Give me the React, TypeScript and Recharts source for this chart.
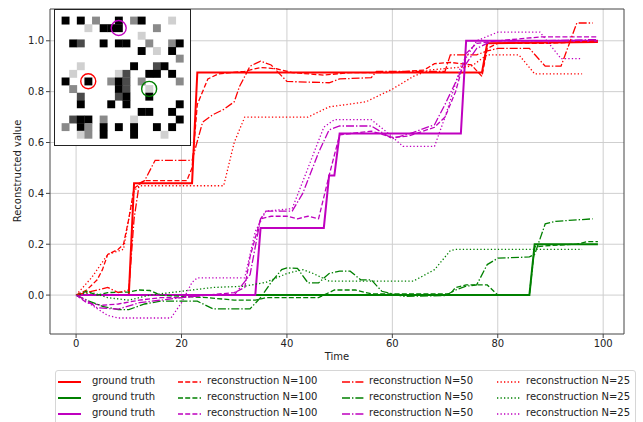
import React from "react";
import { LineChart, Line, XAxis, YAxis, CartesianGrid, ReferenceArea } from "recharts";

type Pt = [number, number];

// axis setup (matplotlib auto limits with 5% margin)
const X_DOMAIN: [number, number] = [-4.95, 103.95];
const Y_DOMAIN: [number, number] = [-0.153, 1.125];
const X_TICKS = [0, 20, 40, 60, 80, 100];
const Y_TICKS = [0, 0.2, 0.4, 0.6, 0.8, 1.0];

// ---- red pixel ----
const RED_GT: Pt[] = [[0, 0], [10, 0], [11, 0.44], [22, 0.44], [23, 0.875], [77, 0.875], [78, 0.99], [99, 0.995]];
const RED_N100: Pt[] = [
  [0, 0], [2, 0.02], [4, 0.06], [5, 0.1], [6, 0.16], [8, 0.18], [9, 0.2], [10, 0.3], [11, 0.42], [13, 0.45],
  [21, 0.45], [22, 0.5], [23, 0.75], [25, 0.85], [27, 0.87], [32, 0.88], [35, 0.895], [38, 0.89], [41, 0.875],
  [47, 0.865], [52, 0.875], [60, 0.875], [66, 0.885], [68, 0.91], [71, 0.915], [75, 0.905], [77, 0.86],
  [78, 0.97], [80, 0.99], [90, 0.99], [99, 1.0],
];
const RED_N50: Pt[] = [
  [0, 0], [2, 0.01], [4, 0.02], [6, 0.03], [8, 0.01], [10, 0.02], [11, 0.3], [12, 0.44], [13, 0.45], [15, 0.53],
  [22, 0.53], [24, 0.68], [26, 0.71], [28, 0.73], [30, 0.76], [31, 0.82], [33, 0.9], [35, 0.92], [37, 0.905],
  [40, 0.84], [48, 0.835], [50, 0.85], [56, 0.855], [57, 0.88], [70, 0.88], [71, 0.945], [76, 0.945],
  [78, 0.96], [80, 0.97], [86, 0.97], [89, 0.9], [92, 0.9], [95, 1.07], [98, 1.07],
];
const RED_N25: Pt[] = [
  [0, 0], [3, 0.07], [6, 0.16], [9, 0.18], [10, 0.3], [11, 0.41], [12, 0.43], [28, 0.43], [30, 0.6], [32, 0.7],
  [44, 0.7], [48, 0.74], [55, 0.76], [60, 0.81], [64, 0.86], [67, 0.885], [75, 0.9], [78, 0.945], [84, 0.945],
  [87, 0.87], [96, 0.87],
];

// ---- green pixel ----
const GREEN_GT: Pt[] = [[0, 0], [86, 0], [87, 0.2], [99, 0.2]];
const GREEN_N100: Pt[] = [
  [0, 0], [2, 0.015], [4, 0.0], [6, 0.01], [10, 0.012], [12, 0.02], [14, 0.018], [16, 0.0], [20, -0.005],
  [25, -0.01], [30, -0.02], [34, -0.02], [36, -0.01], [46, -0.01], [49, 0.02], [53, 0.02], [56, 0.005],
  [71, 0.005], [72, 0.03], [74, 0.04], [78, 0.04], [80, 0.0], [86, 0.0], [87, 0.19], [90, 0.195], [95, 0.2],
  [97, 0.21], [99, 0.21],
];
const GREEN_N50: Pt[] = [
  [0, 0], [2, -0.02], [5, -0.044], [8, -0.057], [10, -0.057], [13, -0.035], [16, -0.024], [23, -0.024],
  [26, -0.054], [33, -0.054], [35, -0.01], [37, 0.05], [39, 0.1], [40, 0.107], [42, 0.105], [44, 0.048],
  [46, 0.048], [48, 0.085], [50, 0.094], [52, 0.094], [54, 0.06], [56, 0.06], [58, 0.015], [62, -0.005],
  [70, -0.002], [72, 0.02], [74, 0.035], [76, 0.04], [78, 0.12], [80, 0.145], [86, 0.15], [87, 0.16],
  [89, 0.28], [91, 0.29], [98, 0.3],
];
const GREEN_N25: Pt[] = [
  [0, 0], [3, 0.01], [6, -0.01], [10, -0.02], [14, 0.0], [18, 0.01], [22, 0.02], [26, 0.03], [32, 0.035],
  [36, 0.05], [40, 0.085], [43, 0.1], [45, 0.085], [48, 0.055], [64, 0.055], [68, 0.1], [71, 0.175],
  [72, 0.18], [96, 0.18],
];

// ---- magenta pixel ----
const MAG_GT: Pt[] = [[0, 0], [34, 0], [35, 0.264], [47, 0.264], [48, 0.47], [49, 0.47], [50, 0.635], [73, 0.635], [74, 1.0], [99, 1.0]];
const MAG_N100: Pt[] = [
  [0, 0], [2, -0.03], [5, -0.04], [8, -0.035], [12, -0.02], [16, -0.01], [20, -0.01], [25, 0.0], [30, 0.01],
  [32, 0.03], [33, 0.15], [35, 0.3], [37, 0.31], [40, 0.31], [42, 0.3], [44, 0.31], [46, 0.3], [48, 0.47],
  [50, 0.63], [56, 0.645], [60, 0.62], [63, 0.625], [68, 0.66], [70, 0.7], [72, 0.8], [74, 0.95], [76, 0.99],
  [80, 1.0], [88, 1.015], [99, 1.015],
];
const MAG_N50: Pt[] = [
  [0, 0], [2, -0.02], [4, -0.05], [8, -0.055], [12, -0.03], [16, -0.02], [20, -0.01], [25, 0.0], [30, 0.0],
  [33, 0.08], [35, 0.3], [36, 0.33], [41, 0.33], [43, 0.4], [46, 0.56], [48, 0.65], [50, 0.665], [56, 0.665],
  [60, 0.615], [64, 0.64], [68, 0.67], [70, 0.75], [73, 0.88], [76, 0.97], [79, 1.0], [88, 1.0], [99, 1.005],
];
const MAG_N25: Pt[] = [
  [0, 0], [3, -0.04], [6, -0.08], [8, -0.09], [18, -0.09], [20, -0.03], [22, 0.05], [23, 0.068], [32, 0.068],
  [34, 0.25], [36, 0.33], [41, 0.34], [44, 0.5], [47, 0.66], [49, 0.69], [56, 0.69], [59, 0.64], [62, 0.585],
  [68, 0.585], [70, 0.7], [73, 0.9], [76, 1.0], [80, 1.034], [88, 1.034], [92, 0.93], [96, 0.93],
];

// inset image (18x18), . white  l light  g grey  d dark  k black
const INSET_ROWS = [
  "..................",
  ".k.k.g..k.gk...l..",
  "....l.kkk....g....",
  "...........l......",
  "..kd..k.kk..g..gk.",
  "...........k.l.k..",
  "................g.",
  "...l......k..dk...",
  "..l.....ld..kk.k..",
  ".k..k..gkd.g....g.",
  "..g.....kd..l.....",
  "...d....dk..k.....",
  "...k...k.k......k.",
  "...........kk..k..",
  "..dkk.g...l.....k.",
  ".g.kg.k.k.k..k.k..",
  "...lg.k...k...l...",
  "..................",
];
const SHADE: Record<string, string> = { ".": "#ffffff", l: "#d0d0d0", g: "#8a8a8a", d: "#4a4a4a", k: "#000000" };
// tracked pixels [col, row, colour]
const TRACKED: [number, number, string][] = [[8, 2, "#bf00bf"], [4, 9, "#ff0000"], [12, 10, "#008000"]];

const RED = "#ff0000";
const GREEN = "#008000";
const MAGENTA = "#bf00bf";
const DASHES = [undefined, "5 2.2", "8 2 1.4 2", "1.3 2.2"];
const LABELS = ["ground truth", "reconstruction N=100", "reconstruction N=50", "reconstruction N=25"];

const SERIES = [
  { color: RED, dash: 0, data: RED_GT },
  { color: GREEN, dash: 0, data: GREEN_GT },
  { color: MAGENTA, dash: 0, data: MAG_GT },
  { color: RED, dash: 1, data: RED_N100 },
  { color: GREEN, dash: 1, data: GREEN_N100 },
  { color: MAGENTA, dash: 1, data: MAG_N100 },
  { color: RED, dash: 2, data: RED_N50 },
  { color: GREEN, dash: 2, data: GREEN_N50 },
  { color: MAGENTA, dash: 2, data: MAG_N50 },
  { color: RED, dash: 3, data: RED_N25 },
  { color: GREEN, dash: 3, data: GREEN_N25 },
  { color: MAGENTA, dash: 3, data: MAG_N25 },
];

const FONT = "'DejaVu Sans', sans-serif";
const TICK = { fill: "#222", fontSize: 10, fontFamily: FONT };

function Inset() {
  const size = 137;
  const cell = size / INSET_ROWS.length;
  return (
    <svg width={size} height={size} style={{ position: "absolute", left: 54, top: 9 }}>
      <rect x={0} y={0} width={size} height={size} fill="#fff" />
      {INSET_ROWS.map((row, r) =>
        row.split("").map((ch, c) =>
          ch === "." ? null : (
            <rect key={r + "-" + c} x={c * cell} y={r * cell} width={cell + 0.3} height={cell + 0.3} fill={SHADE[ch]} />
          )
        )
      )}
      {TRACKED.map(([c, r, col]) => (
        <circle key={col} cx={(c + 0.5) * cell} cy={(r + 0.5) * cell} r={7.5} fill="none" stroke={col} strokeWidth={1.4} />
      ))}
      <rect x={0.5} y={0.5} width={size - 1} height={size - 1} fill="none" stroke="#222" strokeWidth={1} />
    </svg>
  );
}

function LegendBox() {
  const colX = [57, 177, 341, 496];
  const textX = [91, 206, 368, 525];
  const rowY = [381, 397, 413];
  const colors = [RED, GREEN, MAGENTA];
  return (
    <div
      style={{
        position: "absolute",
        left: 55,
        top: 370,
        width: 581,
        height: 60,
        border: "1px solid #d6d6d6",
        borderRadius: 3,
        background: "rgba(255,255,255,0.8)",
        boxSizing: "border-box",
      }}
    >
      {LABELS.map((label, ci) =>
        colors.map((col, ri) => (
          <React.Fragment key={ci + "-" + ri}>
            <svg width={24} height={4} style={{ position: "absolute", left: colX[ci] - 55, top: rowY[ri] - 370 - 2 }}>
              <line x1={0} y1={2} x2={23} y2={2} stroke={col} strokeWidth={ci === 0 ? 2 : 1.4} strokeDasharray={DASHES[ci]} />
            </svg>
            <span
              style={{
                position: "absolute",
                left: textX[ci] - 55,
                top: rowY[ri] - 370 - 7,
                fontSize: 10,
                lineHeight: "12px",
                fontFamily: FONT,
                color: "#222",
                whiteSpace: "nowrap",
              }}
            >
              {label}
            </span>
          </React.Fragment>
        ))
      )}
    </div>
  );
}

export default function App() {
  return (
    <div style={{ position: "absolute", left: 0, top: 0, width: 643, height: 422, overflow: "hidden", background: "#fff" }}>
      <LineChart width={643} height={422} margin={{ top: 9, right: 19, left: 0, bottom: 58 }}>
        <CartesianGrid stroke="#cfcfcf" strokeWidth={1} horizontalValues={Y_TICKS} verticalValues={X_TICKS} />
        <XAxis
          type="number"
          dataKey="x"
          domain={X_DOMAIN}
          ticks={X_TICKS}
          allowDataOverflow
          height={30}
          tickSize={4}
          tick={TICK}
          axisLine={false}
          tickLine={{ stroke: "#444" }}
        />
        <YAxis
          type="number"
          domain={Y_DOMAIN}
          ticks={Y_TICKS}
          allowDataOverflow
          width={50}
          tickSize={4}
          tick={TICK}
          tickFormatter={(v: number) => v.toFixed(1)}
          axisLine={false}
          tickLine={{ stroke: "#444" }}
        />
        {SERIES.map((s, i) => (
          <Line
            key={i}
            data={s.data.map(([x, y]) => ({ x, y }))}
            dataKey="y"
            type="linear"
            stroke={s.color}
            strokeWidth={s.dash === 0 ? 2 : 1.3}
            strokeDasharray={DASHES[s.dash]}
            dot={false}
            activeDot={false}
            isAnimationActive={false}
          />
        ))}
        <ReferenceArea
          x1={X_DOMAIN[0]}
          x2={X_DOMAIN[1]}
          y1={Y_DOMAIN[0]}
          y2={Y_DOMAIN[1]}
          fill="none"
          fillOpacity={0}
          stroke="#444"
          strokeWidth={1}
        />
      </LineChart>
      <Inset />
      <div style={{ position: "absolute", left: 0, width: 643, top: 351, textAlign: "center", paddingLeft: 31, boxSizing: "border-box", fontSize: 10, fontFamily: FONT, color: "#222" }}>
        Time
      </div>
      <div
        style={{
          position: "absolute",
          left: 17,
          top: 171,
          transform: "translate(-50%, -50%) rotate(-90deg)",
          fontSize: 10,
          fontFamily: FONT,
          color: "#222",
          whiteSpace: "nowrap",
        }}
      >
        Reconstructed value
      </div>
      <LegendBox />
    </div>
  );
}
